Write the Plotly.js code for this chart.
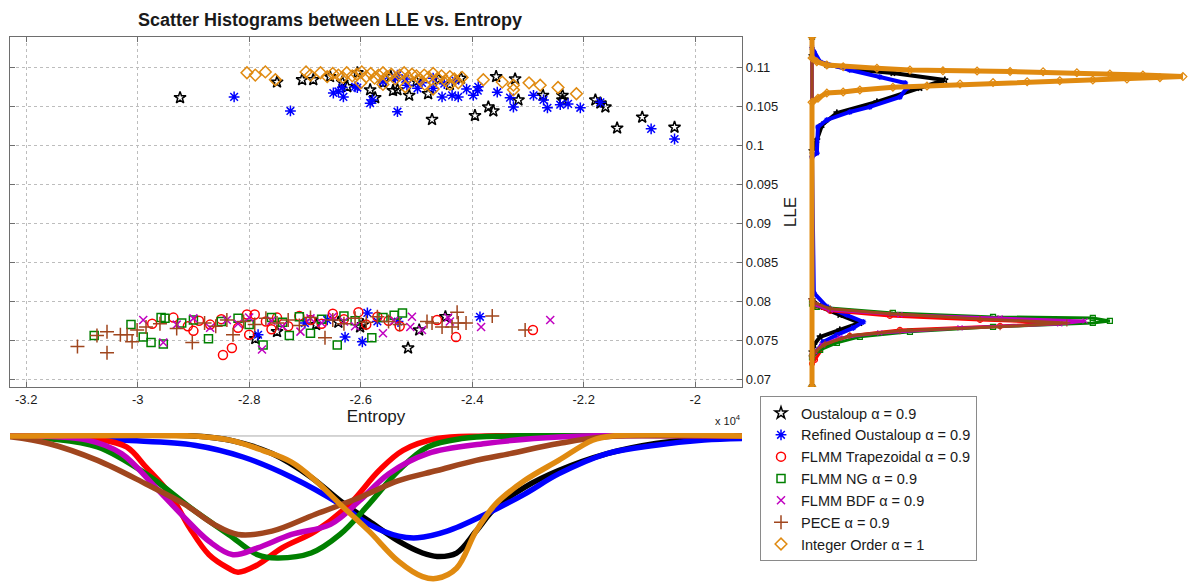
<!DOCTYPE html>
<html><head><meta charset="utf-8">
<script src="https://cdn.plot.ly/plotly-3.0.1.min.js"></script>
<style>html,body{margin:0;padding:0;background:#fff}#chart{width:1190px;height:583px}</style>
</head><body><div id="chart"></div>
<script>
// ---------- tick labels ----------
const entropyTicks = [-3.2, -3, -2.8, -2.6, -2.4, -2.2, -2];
const entropyTickText = ['-3.2', '-3', '-2.8', '-2.6', '-2.4', '-2.2', '-2'];
const lleTicks = [0.07, 0.075, 0.08, 0.085, 0.09, 0.095, 0.1, 0.105, 0.11];
const lleTickText = ['0.07', '0.075', '0.08', '0.085', '0.09', '0.095', '0.1', '0.105', '0.11'];

// ---------- series names ----------
const seriesNames = ['Oustaloup α = 0.9', 'Refined Oustaloup α = 0.9', 'FLMM Trapezoidal α = 0.9',
  'FLMM NG α = 0.9', 'FLMM BDF α = 0.9', 'PECE α = 0.9', 'Integer Order α = 1'];

// ---------- scatter data (Entropy in units of 1e4, LLE) ----------
const oustX = [-2.924,-2.750,-2.705,-2.685,-2.655,-2.633,-2.624,-2.606,-2.583,-2.574,-2.560,-2.546,-2.542,-2.534,-2.513,-2.500,-2.479,-2.472,-2.460,-2.440,-2.420,-2.395,-2.371,-2.362,-2.357,-2.323,-2.317,-2.273,-2.238,-2.238,-2.179,-2.170,-2.161,-2.140,-2.095,-2.037,
  -2.789,-2.750,-2.680,-2.640,-2.601,-2.596,-2.515,-2.495,-2.448];
const oustY = [0.1061,0.1081,0.1084,0.1084,0.1088,0.1081,0.1075,0.1093,0.1071,0.1061,0.1080,0.1088,0.1070,0.1071,0.1064,0.1082,0.1066,0.1033,0.1085,0.1078,0.1086,0.1038,0.1049,0.1044,0.1088,0.1085,0.1058,0.1064,0.1064,0.1058,0.1058,0.1054,0.1049,0.1022,0.1036,0.1023,
  0.0752,0.0761,0.0770,0.0773,0.0767,0.0770,0.0740,0.0763,0.0780];

const refX = [-2.827,-2.726,-2.649,-2.640,-2.633,-2.631,-2.610,-2.606,-2.583,-2.579,-2.560,-2.538,-2.534,-2.534,-2.520,-2.517,-2.498,-2.490,-2.470,-2.470,-2.454,-2.450,-2.436,-2.430,-2.425,-2.410,-2.398,-2.390,-2.389,-2.355,-2.332,-2.326,-2.290,-2.272,-2.265,-2.242,-2.228,-2.206,-2.170,-2.079,-2.037,
  -2.784,-2.700,-2.660,-2.628,-2.597,-2.588,-2.570,-2.533,-2.386];
const refY = [0.1062,0.1044,0.1067,0.1069,0.1074,0.1062,0.1075,0.1074,0.1054,0.1058,0.1082,0.1086,0.1090,0.1043,0.1085,0.1077,0.1073,0.1080,0.1073,0.1086,0.1062,0.1079,0.1064,0.1083,0.1062,0.1072,0.1064,0.1070,0.1075,0.1068,0.1061,0.1049,0.1064,0.1058,0.1048,0.1052,0.1053,0.1048,0.1055,0.1021,0.1008,
  0.0757,0.0772,0.0776,0.0754,0.0748,0.0785,0.0774,0.0774,0.0780];

const trapX = [-2.974,-2.936,-2.910,-2.900,-2.890,-2.870,-2.850,-2.847,-2.831,-2.820,-2.804,-2.800,-2.790,-2.770,-2.760,-2.750,-2.730,-2.710,-2.690,-2.670,-2.650,-2.630,-2.604,-2.590,-2.570,-2.550,-2.530,-2.463,-2.429,-2.291];
const trapY = [0.0771,0.0779,0.0768,0.0762,0.0775,0.0770,0.0777,0.0731,0.0740,0.0766,0.0783,0.0757,0.0783,0.0774,0.0764,0.0779,0.0768,0.0781,0.0776,0.0771,0.0784,0.0777,0.0786,0.0770,0.0780,0.0775,0.0768,0.0776,0.0754,0.0763];

const ngX = [-3.078,-3.012,-2.990,-2.976,-2.958,-2.954,-2.951,-2.921,-2.900,-2.873,-2.850,-2.820,-2.800,-2.775,-2.760,-2.740,-2.728,-2.710,-2.690,-2.670,-2.642,-2.630,-2.610,-2.580,-2.560,-2.540,-2.525];
const ngY = [0.0756,0.0770,0.0754,0.0747,0.0779,0.0745,0.0778,0.0772,0.0776,0.0752,0.0774,0.0778,0.0770,0.0744,0.0779,0.0773,0.0756,0.0780,0.0759,0.0777,0.0744,0.0781,0.0775,0.0753,0.0779,0.0782,0.0785];

const bdfX = [-2.990,-2.954,-2.930,-2.900,-2.870,-2.840,-2.820,-2.800,-2.777,-2.760,-2.740,-2.708,-2.690,-2.670,-2.650,-2.630,-2.610,-2.560,-2.540,-2.508,-2.511,-2.490,-2.443,-2.440,-2.384,-2.260];
const bdfY = [0.0776,0.0747,0.0770,0.0778,0.0766,0.0776,0.0771,0.0779,0.0738,0.0775,0.0768,0.0761,0.0778,0.0772,0.0780,0.0774,0.0768,0.0759,0.0775,0.0780,0.0767,0.0763,0.0779,0.0774,0.0767,0.0776];

const peceX = [-3.108,-3.073,-3.055,-3.055,-3.031,-3.019,-3.010,-3.001,-2.985,-2.960,-2.930,-2.902,-2.880,-2.860,-2.840,-2.829,-2.810,-2.790,-2.770,-2.750,-2.730,-2.710,-2.690,-2.664,-2.650,-2.630,-2.610,-2.590,-2.570,-2.550,-2.530,-2.481,-2.472,-2.454,-2.436,-2.427,-2.425,-2.411,-2.364,-2.305];
const peceY = [0.0742,0.0756,0.0761,0.0734,0.0757,0.0757,0.0748,0.0763,0.0767,0.0771,0.0765,0.0747,0.0772,0.0768,0.0776,0.0757,0.0774,0.0770,0.0778,0.0772,0.0776,0.0769,0.0779,0.0753,0.0776,0.0771,0.0778,0.0773,0.0780,0.0774,0.0770,0.0774,0.0772,0.0767,0.0767,0.0786,0.0772,0.0772,0.0781,0.0763];

const intX = [-2.804,-2.789,-2.771,-2.753,-2.698,-2.690,-2.672,-2.660,-2.650,-2.640,-2.632,-2.625,-2.615,-2.607,-2.600,-2.598,-2.590,-2.582,-2.575,-2.568,-2.560,-2.560,-2.553,-2.545,-2.538,-2.530,-2.522,-2.520,-2.515,-2.508,-2.500,-2.493,-2.486,-2.485,-2.478,-2.470,-2.470,-2.462,-2.455,-2.448,-2.440,-2.440,-2.432,-2.425,-2.418,-2.380,-2.346,-2.326,-2.326,-2.298,-2.278,-2.246,-2.213];
const intY = [0.1093,0.1090,0.1094,0.1084,0.1094,0.1090,0.1093,0.1088,0.1092,0.1090,0.1087,0.1093,0.1089,0.1091,0.1080,0.1094,0.1088,0.1092,0.1086,0.1090,0.1093,0.1078,0.1088,0.1091,0.1085,0.1090,0.1093,0.1075,0.1087,0.1091,0.1089,0.1084,0.1090,0.1078,0.1087,0.1092,0.1072,0.1086,0.1089,0.1083,0.1088,0.1078,0.1085,0.1080,0.1087,0.1084,0.1081,0.1071,0.1077,0.1080,0.1077,0.1074,0.1066];

// ---------- right marginal densities (LLE, density) ----------
const rOustLLE = [0.069,0.0735,0.0744,0.07543,0.07632,0.07723,0.07826,0.07929,0.0802,0.0993,0.10068,0.10260,0.10414,0.10555,0.10735,0.10837,0.10927,0.10965,0.11030,0.11094,0.1115,0.1139];
const rOustDen = [0,0,0.5,2.2,7.5,12.9,7.5,2.2,0,0,1.3,2.7,6.7,17.5,29.1,35.8,21.8,12.9,4.0,0.8,0,0];
const rRefLLE = [0.069,0.0728,0.07376,0.07478,0.07568,0.07658,0.07735,0.07826,0.07929,0.08106,0.0985,0.09900,0.10234,0.10324,0.10427,0.10491,0.10619,0.10735,0.10799,0.10876,0.10965,0.11068,0.11196,0.1125,0.1139];
const rRefDen = [0,0,1.6,3.0,6.7,11.1,13.8,9.4,4.0,0.5,0,1.3,1.6,4.0,10.2,15.6,23.7,25.6,25.1,18.3,10.2,2.2,0.5,0,0];
const rTrapLLE = [0.069,0.0720,0.07248,0.0744,0.07556,0.07632,0.07683,0.07722,0.0776,0.07812,0.07876,0.0794,0.0800,0.1139];
const rTrapDen = [0,0,0.8,3.5,10.2,23.7,50.7,66.8,45.3,21.0,4.9,0.8,0,0];
const rNgLLE = [0.069,0.0728,0.07376,0.07466,0.07543,0.07608,0.07671,0.07722,0.07747,0.07786,0.07799,0.0785,0.07927,0.0797,0.1139];
const rNgDen = [0,0,2.2,6.7,12.9,26.4,48.8,75.7,80.3,75.7,48.8,21.8,1.3,0,0];
const rBdfLLE = [0.069,0.0730,0.0735,0.0744,0.0753,0.07594,0.07658,0.07709,0.07747,0.07786,0.07826,0.07888,0.07953,0.0800,0.1139];
const rBdfDen = [0,0,0.8,2.7,7.5,18.3,39.9,66.8,73.6,50.7,23.7,4.9,0.8,0,0];
const rPeceLLE = [0.069,0.0730,0.0735,0.0745,0.07556,0.07620,0.07671,0.07722,0.07773,0.07838,0.07902,0.07978,0.0803,0.1139];
const rPeceDen = [0,0,0.8,3.5,10.2,23.7,50.7,68.7,45.3,21.0,4.9,0.8,0,0];
const rIntLLE = [0.069,0.1055,0.10603,0.10671,0.10683,0.10709,0.10744,0.10760,0.10786,0.10803,0.10815,0.10828,0.10837,0.10850,0.10867,0.10880,0.10901,0.10914,0.10931,0.10944,0.10946,0.10953,0.10956,0.10965,0.10987,0.11008,0.11030,0.11072,0.1112,0.1139];
const rIntDen = [0,0,1.6,4.0,8.4,12.9,21.8,31.0,39.9,48.8,58.0,66.8,75.7,84.9,93.8,100,89.2,80.3,71.4,62.3,53.4,44.5,35.3,26.4,17.5,8.4,4.0,1.3,0,0];

// ---------- bottom marginal densities (Entropy 1e4, density) ----------
const bOustEnt = [-3.229,-2.898,-2.829,-2.759,-2.689,-2.637,-2.585,-2.532,-2.489,-2.463,-2.428,-2.393,-2.358,-2.306,-2.245,-2.158,-2.071,-1.984,-1.916];
const bOustDen = [0,0,3.4,12.4,29.0,45.6,59.9,74.1,82.4,84.8,82.4,67.0,50.4,36.1,24.3,12.4,5.3,1.8,0.6];
const bRefEnt = [-3.229,-3.116,-3.029,-2.898,-2.811,-2.724,-2.637,-2.585,-2.532,-2.498,-2.445,-2.376,-2.306,-2.245,-2.158,-2.071,-1.984,-1.916];
const bRefDen = [0,0.6,2.9,6.5,14.8,29.0,48.0,62.2,70.5,71.7,67.0,55.1,40.9,26.7,12.4,6.5,2.9,1.8];
const bTrapEnt = [-3.229,-3.072,-3.020,-2.985,-2.942,-2.907,-2.872,-2.837,-2.820,-2.785,-2.741,-2.681,-2.620,-2.567,-2.524,-2.463,-2.376,-1.916];
const bTrapDen = [0,2.5,7.7,21.9,40.9,64.6,83.6,93.1,95.9,90.7,78.8,67.0,48.0,24.3,10.1,1.8,0,0];
const bNgEnt = [-3.229,-3.160,-3.072,-2.985,-2.898,-2.837,-2.785,-2.750,-2.689,-2.637,-2.585,-2.532,-2.480,-2.419,-2.332,-1.916];
const bNgDen = [0,1.8,7.7,26.7,52.7,69.3,83.6,85.9,82.4,69.3,48.0,24.3,7.7,1.8,0,0];
const bBdfEnt = [-3.229,-3.090,-3.029,-2.968,-2.916,-2.872,-2.829,-2.785,-2.724,-2.654,-2.602,-2.550,-2.480,-2.376,-2.289,-2.201,-1.916];
const bBdfDen = [0,2.9,12.4,36.1,57.5,74.1,83.6,78.8,69.3,62.2,45.6,26.7,12.4,5.3,1.8,0,0];
const bPeceEnt = [-3.229,-3.160,-3.072,-2.985,-2.916,-2.863,-2.820,-2.759,-2.681,-2.602,-2.532,-2.463,-2.393,-2.332,-2.245,-2.158,-1.916];
const bPeceDen = [0.6,5.3,17.2,33.8,48.0,62.2,69.3,67.0,55.1,43.3,31.4,24.3,17.2,12.4,5.3,0.6,0];
const bIntEnt = [-3.229,-2.898,-2.881,-2.829,-2.776,-2.724,-2.681,-2.637,-2.585,-2.532,-2.489,-2.463,-2.428,-2.393,-2.358,-2.306,-2.245,-2.184,-2.149,-1.916];
const bIntDen = [0,0,0.6,3.4,10.1,18.4,31.4,48.0,67.0,88.3,99.0,100.2,93.1,67.0,48.0,31.4,17.2,3.0,0,0];

// ---------- styles ----------
const colors = ['#000000', '#0000ff', '#ff0000', '#008000', '#c000c0', '#a0461e', '#e08a10'];
const symbols = ['star-open', 'asterisk-open', 'circle-open', 'square-open', 'x-thin-open', 'cross-thin-open', 'diamond-open'];
const sizes = [9, 9, 9, 8, 8, 10, 9];

const scatterX = [oustX, refX, trapX, ngX, bdfX, peceX, intX];
const scatterY = [oustY, refY, trapY, ngY, bdfY, peceY, intY];
const rightLLE = [rOustLLE, rRefLLE, rTrapLLE, rNgLLE, rBdfLLE, rPeceLLE, rIntLLE];
const rightDen = [rOustDen, rRefDen, rTrapDen, rNgDen, rBdfDen, rPeceDen, rIntDen];
const botEnt = [bOustEnt, bRefEnt, bTrapEnt, bNgEnt, bBdfEnt, bPeceEnt, bIntEnt];
const botDen = [bOustDen, bRefDen, bTrapDen, bNgDen, bBdfDen, bPeceDen, bIntDen];

const traces = [];
for (let i = 0; i < 7; i++) {
  traces.push({
    type: 'scatter', mode: 'markers', name: seriesNames[i],
    x: scatterX[i], y: scatterY[i], xaxis: 'x', yaxis: 'y',
    marker: { symbol: symbols[i], size: sizes[i], color: colors[i], line: { color: colors[i], width: 1.5 } }
  });
}
for (let i = 0; i < 7; i++) {
  traces.push({
    type: 'scatter', mode: 'lines+markers', showlegend: false, hoverinfo: 'skip',
    x: rightDen[i], y: rightLLE[i], xaxis: 'x2', yaxis: 'y2',
    line: { color: colors[i], width: i === 6 ? 5 : (i < 2 ? 4 : 3) },
    marker: { symbol: symbols[i], size: i === 6 ? 6 : 5, color: colors[i], line: { color: colors[i], width: 1.2 } }
  });
}
for (let i = 0; i < 7; i++) {
  traces.push({
    type: 'scatter', mode: 'lines', showlegend: false, hoverinfo: 'skip',
    x: botEnt[i], y: botDen[i], xaxis: 'x3', yaxis: 'y3',
    line: { color: colors[i], width: 5.5, shape: 'spline', smoothing: 1 }
  });
}

const FONT = 'Liberation Sans, Arial, Helvetica, sans-serif';
const W = 1190, H = 583;
const axBase = {
  showline: true, linecolor: '#6e6e6e', linewidth: 1.2, mirror: 'ticks',
  ticks: 'inside', ticklen: 5, tickcolor: '#6e6e6e',
  showgrid: true, gridcolor: '#bdbdbd', griddash: 'dot', gridwidth: 1,
  zeroline: false, tickfont: { family: FONT, size: 13, color: '#1a1a1a' }
};

const layout = {
  width: W, height: H,
  margin: { l: 0, r: 0, t: 0, b: 0 },
  paper_bgcolor: '#ffffff', plot_bgcolor: 'rgba(0,0,0,0)',
  font: { family: FONT, color: '#1a1a1a' },
  title: {
    text: '<b>Scatter Histograms between LLE vs. Entropy</b>',
    x: 330 / W, xanchor: 'center', xref: 'paper',
    y: 1 - 20 / H, yanchor: 'middle', yref: 'paper',
    font: { family: FONT, size: 18, color: '#1a1a1a' }
  },
  xaxis: Object.assign({}, axBase, {
    domain: [10 / W, 742 / W], range: [-3.229, -1.916], anchor: 'y',
    tickmode: 'array', tickvals: entropyTicks, ticktext: entropyTickText,
    title: { text: 'Entropy', font: { family: FONT, size: 17 }, standoff: 4 }
  }),
  yaxis: Object.assign({}, axBase, {
    domain: [1 - 387 / H, 1 - 37 / H], range: [0.069, 0.11388], anchor: 'x', side: 'right',
    tickmode: 'array', tickvals: lleTicks, ticktext: lleTickText,
    title: { text: 'LLE', font: { family: FONT, size: 17 }, standoff: 6 }
  }),
  xaxis2: { domain: [805 / W, 1], range: [-1.89, 101.9], anchor: 'y2', visible: false, fixedrange: true },
  yaxis2: { domain: [1 - 387 / H, 1 - 37 / H], range: [0.069, 0.11388], anchor: 'x2', visible: false },
  xaxis3: { domain: [10 / W, 742 / W], range: [-3.229, -1.916], anchor: 'y3', visible: false },
  yaxis3: { domain: [0, 1 - 433 / H], range: [103.5, -2.1], anchor: 'x3', visible: false },
  shapes: [
    { type: 'line', xref: 'x3', yref: 'y3', x0: -3.229, x1: -1.916, y0: 0, y1: 0, layer: 'below',
      line: { color: '#aaaaaa', width: 1 } }
  ],
  annotations: [
    { text: 'x 10<sup>4</sup>', xref: 'paper', yref: 'paper', x: 728 / W, y: 1 - 420 / H,
      xanchor: 'center', yanchor: 'middle', showarrow: false, font: { family: FONT, size: 11, color: '#1a1a1a' } }
  ],
  legend: {
    x: 760 / W, y: 1 - 396 / H, xanchor: 'left', yanchor: 'top',
    bgcolor: '#ffffff', bordercolor: '#8a8a8a', borderwidth: 1,
    font: { family: FONT, size: 14.5, color: '#1a1a1a' }, tracegroupgap: 0
  },
  showlegend: true
};

Plotly.newPlot('chart', traces, layout, { displayModeBar: false, staticPlot: true });
</script>
</body></html>
